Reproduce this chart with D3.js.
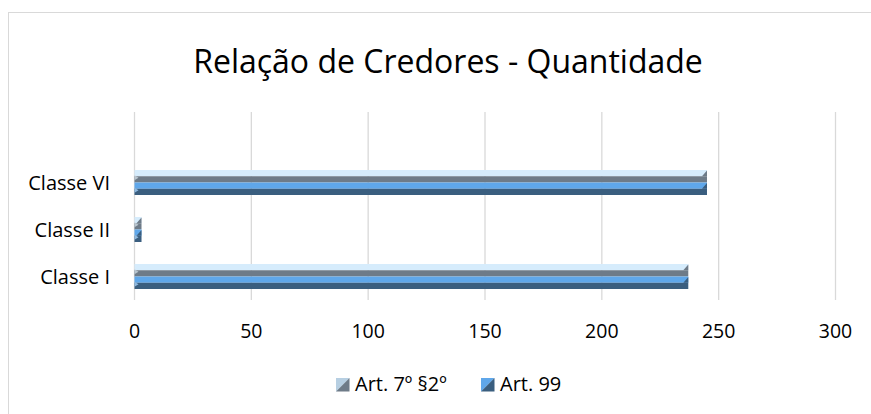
<!DOCTYPE html>
<html>
<head>
<meta charset="utf-8">
<script src="https://cdn.jsdelivr.net/npm/d3@7"></script>
<style>
  body { margin: 0; background: #fff; }
  text { font-family: "Open Sans", "Noto Sans", sans-serif; fill: #000; }
</style>
</head>
<body>
<div id="chart"></div>
<script>
// data
const categories = ["Classe I", "Classe II", "Classe VI"];
const seriesNames = ["Art. 7º §2º", "Art. 99"];
const art7Values = [237, 3, 245];
const art99Values = [237, 3, 245];
const xTicks = [0, 50, 100, 150, 200, 250, 300];

const width = 871;
const height = 414;

// colours for the two halves of each bevelled bar
const barColors = [
    { top: "#d6ecfc", bottom: "#6e7b88", edge: "#b9c6d0", mark: "#b7cfe2" },
    { top: "#5fa7ea", bottom: "#3a5e7f", edge: "#8fb9e0", mark: "#5fa7ea" }
];

const svg = d3.select("#chart")
    .append("svg")
    .attr("width", width)
    .attr("height", height);

// chart area border
svg.append("rect")
    .attr("x", 8.5).attr("y", 12.5)
    .attr("width", 900).attr("height", 500)
    .attr("fill", "none")
    .attr("stroke", "#d9d9d9");

svg.append("text")
    .attr("x", 448)
    .attr("y", 73)
    .attr("text-anchor", "middle")
    .style("font-size", "32px")
    .text("Relação de Credores - Quantidade");

const plot = { left: 134.5, right: 835.5, top: 112, bottom: 300 };

const x = d3.scaleLinear()
    .domain([0, 300])
    .range([plot.left, plot.right]);

// Excel left an empty slot above the last category
const y = d3.scaleBand()
    .domain([...categories, ""])
    .range([plot.bottom, plot.top])
    .paddingInner(0)
    .paddingOuter(0);

// gridlines
svg.append("g")
    .selectAll("line")
    .data(xTicks)
    .join("line")
    .attr("x1", d => x(d)).attr("x2", d => x(d))
    .attr("y1", plot.top).attr("y2", plot.bottom)
    .attr("stroke", "#d9d9d9")
    .attr("stroke-width", 1.3);

// tick labels
svg.append("g")
    .selectAll("text")
    .data(xTicks)
    .join("text")
    .attr("x", d => x(d))
    .attr("y", 338)
    .attr("text-anchor", "middle")
    .style("font-size", "19.5px")
    .text(d => d);

// category labels
svg.append("g")
    .selectAll("text")
    .data(categories)
    .join("text")
    .attr("x", 110)
    .attr("y", d => y(d) + y.bandwidth() / 2 + 7.5)
    .attr("text-anchor", "end")
    .style("font-size", "20px")
    .text(d => d);

const barH = 12.5;
const rows = [];
categories.forEach((c, i) => {
    rows.push({ cat: c, s: 0, value: art7Values[i] });
    rows.push({ cat: c, s: 1, value: art99Values[i] });
});

const barY = d => y(d.cat) + y.bandwidth() / 2 - barH + d.s * barH;

const bars = svg.append("g")
    .selectAll("g")
    .data(rows)
    .join("g");

bars.append("rect")
    .attr("x", x(0))
    .attr("y", d => barY(d))
    .attr("width", d => x(d.value) - x(0))
    .attr("height", barH / 2)
    .attr("fill", d => barColors[d.s].top);

bars.append("rect")
    .attr("x", x(0))
    .attr("y", d => barY(d) + barH / 2)
    .attr("width", d => x(d.value) - x(0))
    .attr("height", barH / 2)
    .attr("fill", d => barColors[d.s].bottom);

// bevel at the right end
bars.append("path")
    .attr("d", d => {
        const xe = x(d.value), yt = barY(d), ym = yt + barH / 2;
        const w = Math.min(5, xe - x(0));
        return `M${xe - w},${ym} L${xe},${yt + 0.5} L${xe},${ym} Z`;
    })
    .attr("fill", d => barColors[d.s].bottom);

// bevel at the left end
bars.append("path")
    .attr("d", d => {
        const x0 = x(0), ym = barY(d) + barH / 2;
        return `M${x0},${ym - 1} L${x0 + 4},${ym + 1.5} L${x0},${ym + 4} Z`;
    })
    .attr("fill", d => barColors[d.s].edge);

// legend
const legendX = [336, 481];
const legend = svg.append("g")
    .selectAll("g")
    .data(seriesNames)
    .join("g")
    .attr("transform", (d, i) => `translate(${legendX[i]}, 378)`);

legend.append("path")
    .attr("d", "M0,0 L13.5,0 L0,13.5 Z")
    .attr("fill", (d, i) => barColors[i].mark);

legend.append("path")
    .attr("d", "M13.5,0 L13.5,13.5 L0,13.5 Z")
    .attr("fill", (d, i) => barColors[i].bottom);

legend.append("text")
    .attr("x", 19)
    .attr("y", 13)
    .style("font-size", "20px")
    .text(d => d);
</script>
</body>
</html>
